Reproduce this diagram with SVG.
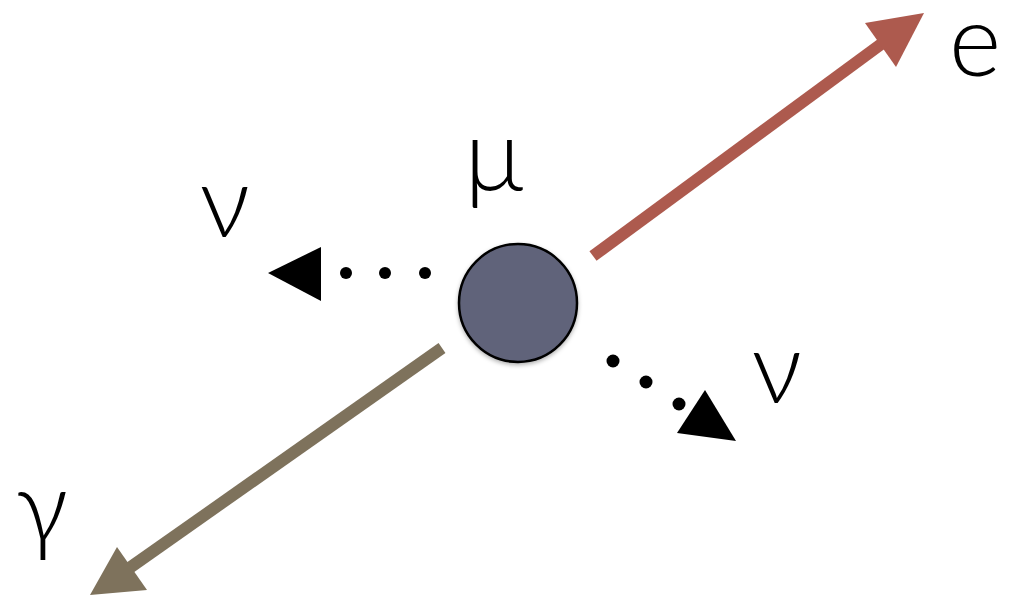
<svg xmlns="http://www.w3.org/2000/svg" width="1017" height="597" viewBox="0 0 1017 597">
<defs>
<style>
.lbl{font-family:"Lato","Liberation Sans",sans-serif;font-weight:300;font-size:100px;fill:#000;text-anchor:middle}
.dot{fill:#000}
</style>
<filter id="sh" x="-20%" y="-20%" width="140%" height="140%">
<feDropShadow dx="0" dy="2" stdDeviation="2" flood-color="#000" flood-opacity="0.3"/>
</filter>
</defs>
<rect width="1017" height="597" fill="#fff"/>
<g id="connectors">
<g id="electron-arrow">
<line x1="593" y1="256" x2="884" y2="42" stroke="#ad5a4e" stroke-width="12"/>
<polygon points="924,13 865,23 896,67" fill="#ad5a4e"/>
</g>
<g id="gamma-arrow">
<line x1="442" y1="348" x2="128" y2="569" stroke="#7e725c" stroke-width="12"/>
<polygon points="90,595 117,547 147,590" fill="#7e725c"/>
</g>
<g id="nu-left-arrow">
<circle class="dot" cx="425" cy="273" r="6"/>
<circle class="dot" cx="385" cy="273" r="6"/>
<circle class="dot" cx="346" cy="273" r="6"/>
<polygon points="268,273 321,247 321,301" fill="#000"/>
</g>
<g id="nu-right-arrow">
<circle class="dot" cx="613" cy="361" r="6.5"/>
<circle class="dot" cx="646" cy="382" r="6.5"/>
<circle class="dot" cx="679" cy="404" r="6.5"/>
<polygon points="705,390 677,433 736,441" fill="#000"/>
</g>
</g>
<g id="muon">
<circle cx="518" cy="303" r="59" fill="#60637a" stroke="#000" stroke-width="2.5" filter="url(#sh)"/>
<text class="lbl" x="494" y="190">μ</text>
</g>
<g id="electron"><text class="lbl" x="975" y="76">e</text></g>
<g id="nu-left"><text class="lbl" x="225" y="237">ν</text></g>
<g id="nu-right"><text class="lbl" x="777" y="403">ν</text></g>
<g id="gamma"><text class="lbl" x="42" y="542">γ</text></g>
</svg>
